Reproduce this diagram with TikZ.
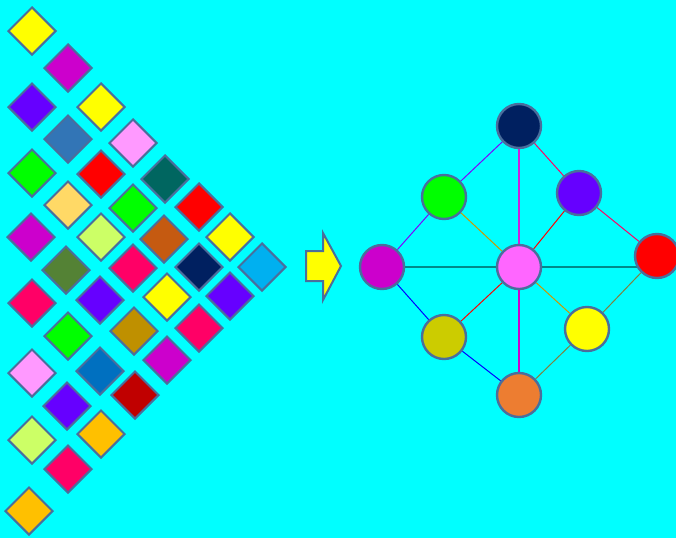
\documentclass[tikz,border=0pt]{standalone}
\usepackage{xcolor}
\usepackage{tikz}
\usetikzlibrary{shapes.geometric,backgrounds}
\definecolor{bgcyan}{HTML}{00FFFF}
\definecolor{rim}{HTML}{4A6E9C}
\definecolor{cYel}{HTML}{FFFF00}
\definecolor{cMag}{HTML}{CC00CC}
\definecolor{cPur}{HTML}{6600FF}
\definecolor{cSteel}{HTML}{3275B6}
\definecolor{cPink}{HTML}{FF99FF}
\definecolor{cGrn}{HTML}{00FF00}
\definecolor{cRed}{HTML}{FF0000}
\definecolor{cTeal}{HTML}{006660}
\definecolor{cSand}{HTML}{FFD966}
\definecolor{cLime}{HTML}{CCFF66}
\definecolor{cRust}{HTML}{C55A11}
\definecolor{cOlive}{HTML}{548235}
\definecolor{cRose}{HTML}{FF0066}
\definecolor{cNavy}{HTML}{002060}
\definecolor{cSky}{HTML}{00B0F0}
\definecolor{cGold}{HTML}{BF9000}
\definecolor{cBlue}{HTML}{0070C0}
\definecolor{cDRed}{HTML}{C00000}
\definecolor{cAmb}{HTML}{FFC000}
\definecolor{cHot}{HTML}{FF66FF}
\definecolor{cMust}{HTML}{CCCC00}
\definecolor{cOrg}{HTML}{ED7D31}
\definecolor{eViol}{HTML}{8000FF}
\definecolor{eMag}{HTML}{CC22DD}
\definecolor{eGold}{HTML}{CC9900}
\definecolor{eTeal}{HTML}{008A8A}
\definecolor{eOlv}{HTML}{80803F}
\pgfdeclarelayer{links}
\pgfsetlayers{background,links,main}
\tikzset{
  tile/.style={draw=rim, line width=2pt, diamond, aspect=1, inner sep=0pt, minimum width=48pt, minimum height=48pt},
  vertex/.style={draw=rim, line width=2.4pt, circle, inner sep=0pt, minimum size=44pt},
  link/.style={line width=1pt},
  bigarrow/.style={draw=rim, line width=2pt, fill=cYel, line join=miter},
}

\begin{document}
\begin{tikzpicture}[x=1pt, y=-1pt]
  \useasboundingbox (0,0) rectangle (676,538);
  \begin{pgfonlayer}{background}
    \fill[bgcyan] (0,0) rectangle (676,538);
  \end{pgfonlayer}

  % triangle of tiles
  \foreach \x/\y/\c [count=\i] in {
      32/31/cYel, 68/68/cMag, 32/107/cPur, 101/107/cYel, 68/139/cSteel,
      133/143/cPink, 32/173/cGrn, 101/174/cRed, 165/179/cTeal, 68/205/cSand,
      133/208/cGrn, 199/207/cRed, 31/237/cMag, 101/237/cLime, 164/239/cRust,
      230/237/cYel, 66/270/cOlive, 133/268/cRose, 199/267/cNavy, 262/267/cSky,
      32/303/cRose, 100/300/cPur, 167/297/cYel, 230/296/cPur, 68/336/cGrn,
      134/331/cGold, 199/328/cRose, 32/373/cPink, 100/371/cBlue, 167/360/cMag,
      67/406/cPur, 135/395/cDRed, 32/440/cLime, 101/434/cAmb, 68/469/cRose,
      29/511/cAmb}
    \node[tile, fill=\c] (d\i) at (\x,\y) {};

  % arrow
  \draw[bigarrow] (306,251) -- (323,251) -- (323,233) -- (341,266)
    -- (323,300) -- (323,281) -- (306,281) -- cycle;

  % graph
  \node[vertex, fill=cNavy] (top) at (519,126) {};
  \node[vertex, fill=cGrn] (nw) at (444,197) {};
  \node[vertex, fill=cPur] (ne) at (579,193) {};
  \node[vertex, fill=cMag] (lft) at (382,267) {};
  \node[vertex, fill=cHot] (mid) at (519,267) {};
  \node[vertex, fill=cRed] (rgt) at (657,256) {};
  \node[vertex, fill=cMust] (sw) at (444,337) {};
  \node[vertex, fill=cYel] (se) at (587,329) {};
  \node[vertex, fill=cOrg] (bot) at (519,395) {};

  \begin{pgfonlayer}{links}
    \draw[link, eViol] (top) -- (nw) -- (lft);
    \draw[link, eMag, line width=1.6pt] (top) -- (mid);
    \draw[link, cRose] (top) -- (ne) -- (rgt);
    \draw[link, eGold] (nw) -- (mid) -- (se);
    \draw[link, cRed] (ne) -- (mid) -- (sw);
    \draw[link, eTeal, line width=1.5pt] (lft) -- (mid) -- (mid -| rgt);
    \draw[link, blue] (lft) -- (sw) -- (bot);
    \draw[link, cMag, line width=1.6pt] (mid) -- (bot);
    \draw[link, eOlv] (rgt) -- (se) -- (bot);
  \end{pgfonlayer}
\end{tikzpicture}
\end{document}
